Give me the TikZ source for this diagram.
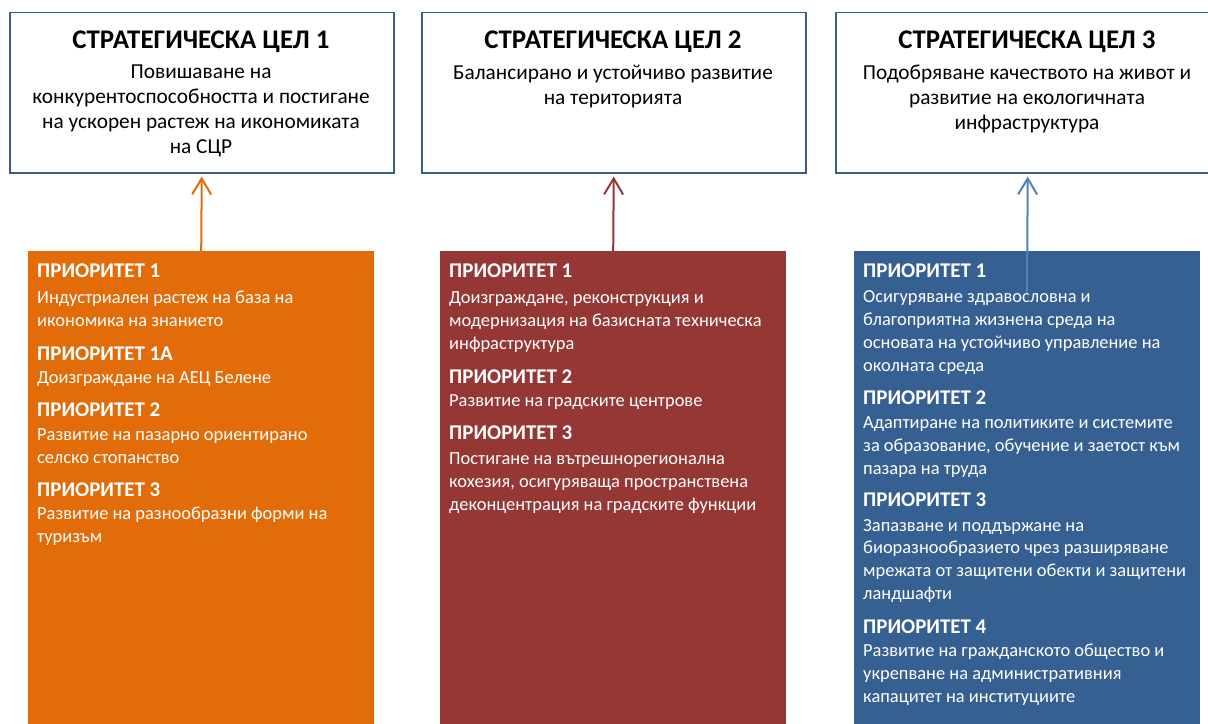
\documentclass[tikz,border=0pt]{standalone}
\usepackage{fontspec}
\setmainfont{Carlito}
\usetikzlibrary{arrows.meta}
\definecolor{cOr}{RGB}{227,108,10}
\definecolor{cRd}{RGB}{149,55,53}
\definecolor{cBl}{RGB}{54,95,146}
\definecolor{cBd}{RGB}{56,93,138}
\definecolor{cBlA}{RGB}{79,129,189}
\newcommand\prh[1]{{\bfseries\fontsize{21}{23}\selectfont #1}}
\begin{document}
\begin{tikzpicture}[x=1bp,y=-1bp,
  goalbox/.style={draw=cBd, line width=1.5bp, fill=white, minimum width=384bp, minimum height=160bp, inner sep=0pt, anchor=north west},
  priobox/.style={fill=#1, minimum width=346bp, minimum height=480bp, inner sep=0pt, anchor=north west},
  gtitle/.style={font=\bfseries\fontsize{27}{30}\selectfont, inner sep=0pt, anchor=base},
  gbody/.style={font=\fontsize{21.4}{25}\selectfont, align=center, inner sep=0pt, anchor=north},
  ptext/.style={font=\fontsize{18.5}{23}\selectfont, text=white, align=left, inner sep=0pt, anchor=north west},
  link/.style={draw=#1, line width=2bp, -{Straight Barb[length=16bp,width=19bp,line width=2bp]}, shorten >=3bp}]
\useasboundingbox (0,0) rectangle (1208,724);
% goal boxes
\node[goalbox] (g1) at (9,12) {};
\node[goalbox] (g2) at (421,12) {};
\node[goalbox] (g3) at (835,12) {};
\node[gtitle] (t1) at (201,49) {СТРАТЕГИЧЕСКА ЦЕЛ 1};
\node[gtitle] (t2) at (613,49) {СТРАТЕГИЧЕСКА ЦЕЛ 2};
\node[gtitle] (t3) at (1027,49) {СТРАТЕГИЧЕСКА ЦЕЛ 3};
\node[gbody] (b1) at (201,64.5) {Повишаване на\\конкурентоспособността и постигане\\на ускорен растеж на икономиката\\на СЦР};
\node[gbody] (b2) at (613,64.5) {Балансирано и устойчиво развитие\\на територията};
\node[gbody] (b3) at (1027,64.5) {Подобряване качеството на живот и\\развитие на екологичната\\инфраструктура};
% priority boxes
\node[priobox=cOr] (p1) at (28,251) {};
\node[priobox=cRd] (p2) at (440,251) {};
\node[priobox=cBl] (p3) at (854,251) {};
\node[ptext] (q1) at (37,264) {\prh{ПРИОРИТЕТ 1}\\[3bp]Индустриален растеж на база на\\икономика на знанието\\[11bp]\prh{ПРИОРИТЕТ 1А}\\[0bp]Доизграждане на АЕЦ Белене\\[10bp]\prh{ПРИОРИТЕТ 2}\\[1bp]Развитие на пазарно ориентирано\\селско стопанство\\[10bp]\prh{ПРИОРИТЕТ 3}\\[0bp]Развитие на разнообразни форми на\\туризъм};
\node[ptext] (q2) at (449,264) {\prh{ПРИОРИТЕТ 1}\\[3bp]Доизграждане, реконструкция и\\модернизация на базисната техническа\\инфраструктура\\[11bp]\prh{ПРИОРИТЕТ 2}\\[0bp]Развитие на градските центрове\\[10bp]\prh{ПРИОРИТЕТ 3}\\[2bp]Постигане на вътрешнорегионална\\кохезия, осигуряваща пространствена\\деконцентрация на градските функции};
\node[ptext] (q3) at (863,264) {\prh{ПРИОРИТЕТ 1}\\[2bp]Осигуряване здравословна и\\благоприятна жизнена среда на\\основата на устойчиво управление на\\околната среда\\[10bp]\prh{ПРИОРИТЕТ 2}\\[1bp]Адаптиране на политиките и системите\\за образование, обучение и заетост към\\пазара на труда\\[9bp]\prh{ПРИОРИТЕТ 3}\\[2bp]Запазване и поддържане на\\биоразнообразието чрез разширяване\\мрежата от защитени обекти и защитени\\ландшафти\\[11bp]\prh{ПРИОРИТЕТ 4}\\[0bp]Развитие на гражданското общество и\\укрепване на административния\\капацитет на институциите};
% connectors
\coordinate (s3) at (1027,293);
\draw[link=cOr] (p1.north) -- (g1.south);
\draw[link=cRd] (p2.north) -- (g2.south);
\draw[link=cBlA] (s3) -- (g3.south);
\end{tikzpicture}
\end{document}
